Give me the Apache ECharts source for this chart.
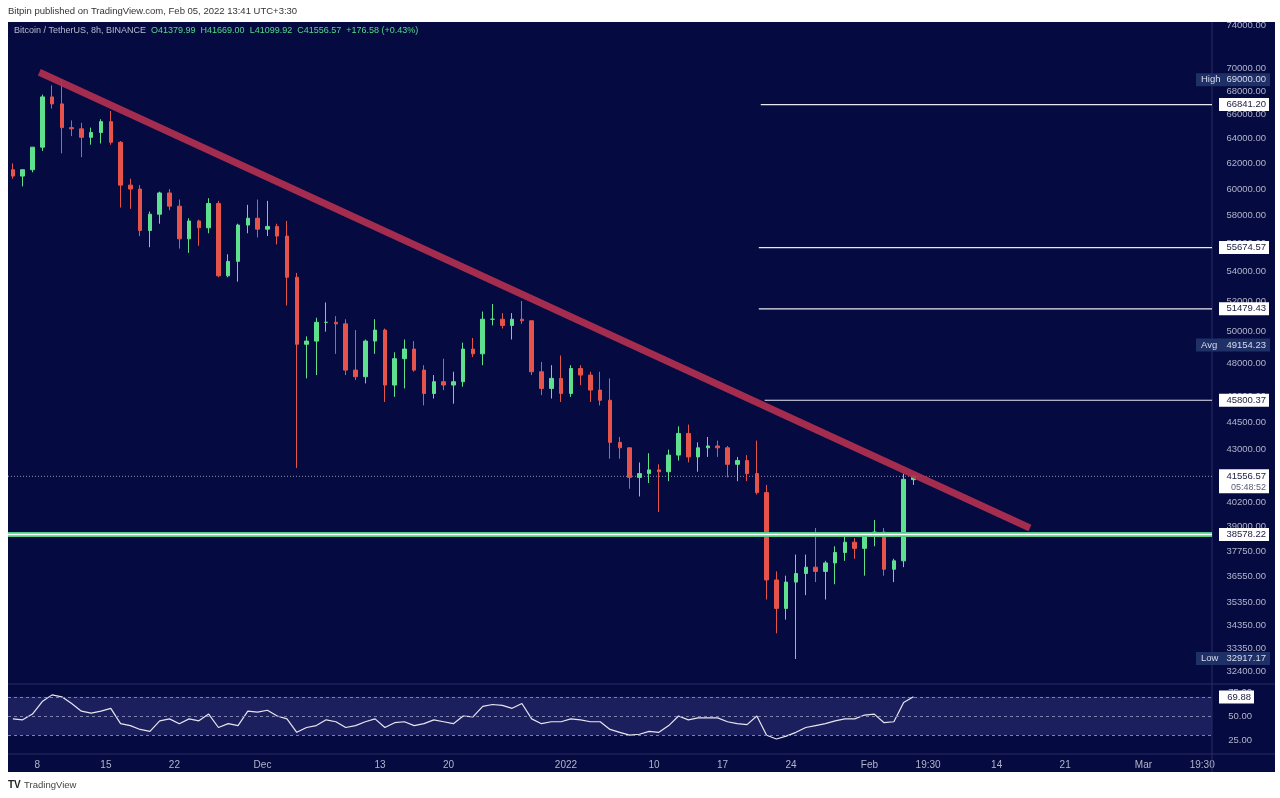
<!DOCTYPE html>
<html><head><meta charset="utf-8">
<script src="https://cdn.jsdelivr.net/npm/echarts@6/dist/echarts.min.js"></script>
<style>
html,body{margin:0;padding:0;background:#fff;width:1280px;height:798px;overflow:hidden;font-family:"Liberation Sans",Arial,sans-serif}
#bg{position:absolute;left:8px;top:22px;width:1267px;height:750px;background:#050a40}
#c{position:absolute;left:0;top:0;width:1280px;height:798px}
</style></head><body>
<div id="bg"></div><div id="c"></div>
<script>
// ---- data ----
const startDate = [2021, 10, 5]; // Nov 5 2021 (month 0-based)
const dayCount = 123;
const openP  = [61500,61000,61500,63300,67500,66900,64900,64800,64100,64500,65400,63700,60300,60000,56900,58100,59700,58700,56300,57600,57100,58900,53700,54700,57300,57800,57000,57200,56500,53600,49200,49400,50600,50600,50500,47600,47200,49400,50100,46700,48300,48900,47600,46200,46900,46700,46900,48900,48600,50800,50800,50400,50800,50700,47500,46500,47100,46200,47700,47300,46400,45800,43400,43100,41500,41700,41900,41800,42700,43900,42600,43100,43200,43100,42200,42400,41700,40700,36400,35100,36300,36700,37000,36800,37200,37700,38200,37900,38500,38700,36900,37300,41380];
const highP  = [62000,61500,63300,67700,68500,69000,65500,65300,64900,65600,66300,63800,60800,60300,58300,59800,60000,59200,57800,57700,59300,59100,55200,57400,58800,59200,59100,57400,57600,53900,49700,50900,51900,51000,50800,50100,49500,50800,50200,48700,49500,49400,47900,47300,48300,47500,49300,49600,51300,51800,51200,51200,52000,50700,48100,47900,48500,47900,47900,47500,47500,47100,43700,43100,42300,42800,42200,43000,44300,44400,43400,43700,43500,43200,42600,42700,43500,41100,36800,36600,37600,37600,38900,37300,38000,38700,38400,38700,39300,38900,37400,41700,41669];
const lowP   = [60800,60200,61300,63000,66500,62800,64200,62500,63500,63600,63500,58600,58500,56500,55700,57400,58400,55600,55300,55800,56700,53600,53600,53300,56700,56400,56500,55900,51700,42000,47100,47300,50000,48600,47300,47000,46800,48600,45700,46000,46500,47500,45500,45900,46400,45600,46600,48400,47900,50400,50200,49500,50500,47300,46100,45900,45700,46000,46700,45700,45500,42500,42500,40900,40500,41200,39700,41300,42400,42300,41800,42600,42600,41500,41300,41300,40600,35500,34000,34600,32900,35700,36300,35500,36200,37300,37400,36600,38000,36600,36300,37000,41100];
const closeP = [61000,61500,63300,67500,66900,64900,64800,64100,64500,65400,63700,60300,60000,56900,58100,59700,58700,56300,57600,57100,58900,53700,54700,57300,57800,57000,57200,56500,53600,49200,49400,50600,50600,50500,47600,47200,49400,50100,46700,48300,48900,47600,46200,46900,46700,46900,48900,48600,50800,50800,50400,50800,50700,47500,46500,47100,46200,47700,47300,46400,45800,43400,43100,41500,41700,41900,41800,42700,43900,42600,43100,43200,43100,42200,42400,41700,40700,36400,35100,36300,36700,37000,36800,37200,37700,38200,37900,38500,38700,36900,37300,41400,41557];
const rsi = [47,46,52,65,72,70,63,55,53,55,58,42,40,36,34,45,47,42,47,45,52,38,42,40,55,54,56,50,47,33,38,40,46,44,38,40,44,47,38,43,44,40,42,46,44,42,50,49,60,62,61,58,63,47,42,44,44,47,46,44,44,36,33,30,31,34,33,40,50,46,48,48,48,44,42,41,50,30,26,29,33,38,40,42,45,47,47,51,52,43,44,64,70];
const priceTicks = [74000,70000,68000,66000,64000,62000,60000,58000,56000,54000,52000,50000,48000,46000,44500,43000,40200,39000,37750,36550,35350,34350,33350,32400];
const rsiTicks = [75,50,25];
const dateLabels = {3:'8',10:'15',17:'22',26:'Dec',38:'13',45:'20',57:'2022',66:'10',73:'17',80:'24',88:'Feb',94:'19:30',101:'14',108:'21',116:'Mar',122:'19:30'};
const levels = [[76.9,66841.20],[76.7,55674.57],[76.7,51479.43],[77.3,45800.37]];
const supportLevel = 38578.22;
const lastPrice = 41556.57;
const trendLine = [[3.2,69660],[104.4,38900]];
const statTags = [['High',69000.00],['Avg',49154.23],['Low',32917.17]];
const rsiLast = 69.88;

// ---- build ----
const cats=[];
for(let i=0;i<dayCount;i++){const d=new Date(startDate[0],startDate[1],startDate[2]+i);cats.push((d.getMonth()+1)+'/'+d.getDate());}
const ohlc=openP.map((o,i)=>[o,closeP[i],lowP[i],highP[i]]);
const rsiData=rsi.slice();
const chart=echarts.init(document.getElementById('c'),null,{renderer:'canvas'});
const UP='#5fe08e',DN='#e5534b',TXT='#b2b5c9';
const L=8,R=68;
const lineSeg=(data,color,width,type,z)=>({type:'line',xAxisIndex:1,yAxisIndex:0,data,symbol:'none',silent:true,z:z||3,lineStyle:{color,width,type:type||'solid'},animation:false});
const series=[
 {type:'candlestick',xAxisIndex:0,yAxisIndex:0,data:ohlc,barWidth:4,z:4,
  itemStyle:{color:UP,color0:DN,borderColor:UP,borderColor0:DN,borderWidth:1}},
 lineSeg([[0,lastPrice],[dayCount,lastPrice]],'#8d90a8',1,[1,2],2),
 lineSeg([[0,supportLevel],[dayCount,supportLevel]],'#4ecb87',5,'solid',5),
 lineSeg([[0,supportLevel],[dayCount,supportLevel]],'#ffffff',1.5,'solid',6),
 lineSeg(trendLine,'rgba(178,48,80,0.92)',7,'solid',7),
 ...levels.map(l=>lineSeg([[l[0],l[1]],[dayCount,l[1]]],'#e8e8f0',1.2,'solid',3)),
 {type:'line',xAxisIndex:2,yAxisIndex:1,data:rsiData,symbol:'none',lineStyle:{color:'#e6e6ee',width:1.2},z:4,
  markArea:{silent:true,itemStyle:{color:'#1c1f5e'},data:[[{yAxis:30},{yAxis:70}]]},
  markLine:{silent:true,symbol:'none',label:{show:false},lineStyle:{color:'#7f82a8',type:[3,3],width:1},data:[{yAxis:70},{yAxis:50},{yAxis:30}]}}
];
const hidden={show:false};
chart.setOption({
 backgroundColor:'transparent',animation:false,
 grid:[{left:L,right:R,top:25,height:646},{left:L,right:R,top:686,height:66}],
 xAxis:[
  {type:'category',gridIndex:0,data:cats,show:false,boundaryGap:true},
  {type:'value',gridIndex:0,min:0,max:dayCount,show:false},
  {type:'category',gridIndex:1,data:cats,show:false,boundaryGap:true},
  {type:'value',gridIndex:1,min:0,max:dayCount,interval:1,position:'bottom',
   axisLine:hidden,axisTick:hidden,splitLine:hidden,
   axisLabel:{color:TXT,fontSize:10,margin:8,formatter:v=>dateLabels[v]||''}}
 ],
 yAxis:[
  {type:'log',gridIndex:0,min:32400,max:74000,logBase:10,show:false},
  {type:'value',gridIndex:1,min:12.5,max:81.25,show:false}
 ],
 series
});

// overlay texts / tags using library scales
const g=[];
const px=1212;
const yP=v=>chart.convertToPixel({yAxisIndex:0},v);
const yR=v=>chart.convertToPixel({yAxisIndex:1},v);
g.push({type:'line',shape:{x1:px,y1:22,x2:px,y2:772},style:{stroke:'#2a2d62',lineWidth:1},z:1});
g.push({type:'line',shape:{x1:8,y1:684,x2:1275,y2:684},style:{stroke:'#2a2d62',lineWidth:1},z:1});
g.push({type:'line',shape:{x1:8,y1:754,x2:1275,y2:754},style:{stroke:'#2a2d62',lineWidth:1},z:1});
priceTicks.forEach(v=>g.push({type:'text',x:1266,y:yP(v),style:{text:v.toFixed(2),fill:TXT,fontSize:9.5,align:'right',verticalAlign:'middle'},z:10}));
rsiTicks.forEach(v=>g.push({type:'text',x:1252,y:yR(v),style:{text:v.toFixed(2),fill:TXT,fontSize:9.5,align:'right',verticalAlign:'middle'},z:10}));
const whiteTag=(y,t,x0,w)=>{g.push({type:'rect',shape:{x:x0||1219,y:y-6.5,width:w||50,height:13},style:{fill:'#ffffff'},z:20});
 g.push({type:'text',x:(x0||1219)+(w||50)-3,y:y,style:{text:t,fill:'#1a1d40',fontSize:9.5,align:'right',verticalAlign:'middle'},z:21});};
levels.forEach(l=>whiteTag(yP(l[1]),l[1].toFixed(2)));
whiteTag(yP(supportLevel),supportLevel.toFixed(2));
{const y=yP(lastPrice);g.push({type:'rect',shape:{x:1219,y:y-7,width:50,height:24},style:{fill:'#ffffff'},z:20});
 g.push({type:'text',x:1266,y:y,style:{text:lastPrice.toFixed(2),fill:'#1a1d40',fontSize:9.5,align:'right',verticalAlign:'middle'},z:21});
 g.push({type:'text',x:1266,y:y+11,style:{text:'05:48:52',fill:'#5a5d7a',fontSize:9,align:'right',verticalAlign:'middle'},z:21});}
whiteTag(yR(rsiLast),rsiLast.toFixed(2),1219,35);
statTags.forEach(s=>{const y=yP(s[1]);g.push({type:'rect',shape:{x:1196,y:y-6.5,width:74,height:13},style:{fill:'#1e3066'},z:20});
 g.push({type:'text',x:1201,y:y,style:{text:s[0],fill:'#d8dbee',fontSize:9.5,verticalAlign:'middle'},z:21});
 g.push({type:'text',x:1266,y:y,style:{text:s[1].toFixed(2),fill:'#d8dbee',fontSize:9.5,align:'right',verticalAlign:'middle'},z:21});});
g.push({type:'text',x:8,y:11,style:{text:'Bitpin published on TradingView.com, Feb 05, 2022 13:41 UTC+3:30',fill:'#333',fontSize:9.5,verticalAlign:'middle'}});
g.push({type:'text',x:14,y:31,style:{rich:{a:{fill:'#b8bbd0',fontSize:9},b:{fill:'#56d98a',fontSize:9}},text:'{a|Bitcoin / TetherUS, 8h, BINANCE  }{b|O41379.99  H41669.00  L41099.92  C41556.57  +176.58 (+0.43%)}',verticalAlign:'middle'},z:10});
g.push({type:'text',x:8,y:785,style:{rich:{l:{fill:'#222',fontSize:10,fontWeight:'bold'},t:{fill:'#444',fontSize:9.5}},text:'{l|TV} {t|TradingView}',verticalAlign:'middle'}});
chart.setOption({graphic:g});
</script></body></html>
